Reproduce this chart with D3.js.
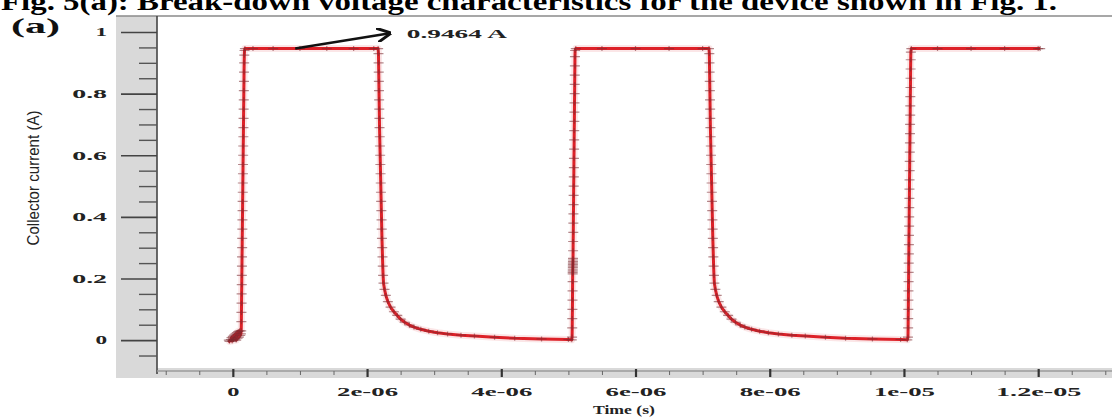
<!DOCTYPE html>
<html>
<head>
<meta charset="utf-8">
<script src="https://cdnjs.cloudflare.com/ajax/libs/d3/7.8.5/d3.min.js"></script>
<style>
  html, body { margin: 0; padding: 0; background: #fff; overflow: hidden; }
  svg { display: block; }
</style>
</head>
<body>
<svg id="chart"></svg>
<script>
(function () {
  'use strict';

  var titleText = "Fig. 5(a): Break-down voltage characteristics for the device shown in Fig. 1.";
  var panelLabel = "(a)";
  var yLabel = "Collector current (A)";
  var xLabel = "Time (s)";
  var peakLabel = "0.9464 A";

  var yTicks = [0, 0.2, 0.4, 0.6, 0.8, 1];
  var yTickLabels = ["0", "0.2", "0.4", "0.6", "0.8", "1"];
  var yMinorTicks = [-0.05, 0.05, 0.1, 0.15, 0.25, 0.3, 0.35, 0.45, 0.5, 0.55, 0.65, 0.7, 0.75, 0.85, 0.9, 0.95];

  // time axis values are in microseconds
  var xTicks = [0, 2, 4, 6, 8, 10, 12];
  var xTickLabels = ["0", "2e-06", "4e-06", "6e-06", "8e-06", "1e-05", "1.2e-05"];
  var xMinorTicks = [-1, -0.5, 0.5, 1, 1.5, 2.5, 3, 3.5, 4.5, 5, 5.5, 6.5, 7, 7.5, 8.5, 9, 9.5, 10.5, 11, 11.5, 12.5, 13];

  // [time (us), collector current (A)]
  var startOff = [[-0.06, 0], [-0.05, -0.004], [-0.03, 0.002], [-0.02, 0.008], [-0.01, -0.003], [0.0, 0.012],
    [0.01, 0.001], [0.02, 0.016], [0.03, 0.004], [0.04, 0.02], [0.05, 0], [0.06, 0.024], [0.07, 0.006],
    [0.08, 0.028], [0.09, 0.01], [0.10, 0.03], [0.11, 0.015], [0.12, 0.02]];

  var rise1 = [[0.125, 0.03], [0.127, 0.06], [0.128, 0.09], [0.130, 0.12], [0.131, 0.15], [0.133, 0.18],
    [0.134, 0.21], [0.136, 0.24], [0.137, 0.27], [0.139, 0.30], [0.140, 0.33], [0.142, 0.36],
    [0.143, 0.39], [0.145, 0.42], [0.146, 0.45], [0.148, 0.48], [0.149, 0.51], [0.151, 0.54],
    [0.152, 0.57], [0.154, 0.60], [0.155, 0.63], [0.157, 0.66], [0.158, 0.69], [0.160, 0.72],
    [0.161, 0.75], [0.163, 0.78], [0.164, 0.81], [0.166, 0.84], [0.167, 0.87], [0.169, 0.90],
    [0.171, 0.925], [0.174, 0.94]];

  var top1 = [[0.18, 0.9464], [0.3, 0.9464], [0.6, 0.9464], [1.0, 0.9464], [1.4, 0.9464],
    [1.8, 0.9464], [2.1, 0.9464], [2.165, 0.9464]];

  var fall1 = [[2.170, 0.93], [2.172, 0.90], [2.174, 0.87], [2.176, 0.84], [2.178, 0.81], [2.180, 0.78],
    [2.182, 0.75], [2.184, 0.72], [2.186, 0.69], [2.189, 0.66], [2.192, 0.63], [2.195, 0.60],
    [2.198, 0.57], [2.201, 0.54], [2.204, 0.51], [2.207, 0.48], [2.210, 0.45], [2.213, 0.42],
    [2.216, 0.39], [2.219, 0.36], [2.222, 0.33], [2.226, 0.30], [2.230, 0.27], [2.234, 0.24],
    [2.239, 0.21], [2.245, 0.185], [2.26, 0.165], [2.28, 0.145], [2.31, 0.125], [2.35, 0.107],
    [2.40, 0.092], [2.45, 0.08], [2.50, 0.068], [2.56, 0.058], [2.63, 0.049], [2.70, 0.042],
    [2.80, 0.035], [2.92, 0.029], [3.05, 0.024], [3.20, 0.020], [3.40, 0.016], [3.60, 0.013],
    [3.90, 0.009], [4.20, 0.006], [4.60, 0.004], [5.00, 0.002], [5.05, 0.001]];

  var rise2 = [[5.055, 0.01], [5.057, 0.04], [5.058, 0.07], [5.060, 0.10], [5.061, 0.13], [5.062, 0.16],
    [5.063, 0.19], [5.064, 0.215], [5.064, 0.22], [5.065, 0.225], [5.065, 0.23], [5.066, 0.235],
    [5.066, 0.24], [5.067, 0.245], [5.067, 0.25], [5.068, 0.255], [5.068, 0.26], [5.069, 0.265],
    [5.070, 0.29], [5.071, 0.32],
    [5.073, 0.35], [5.074, 0.38], [5.075, 0.41], [5.077, 0.44], [5.078, 0.47], [5.079, 0.50],
    [5.081, 0.53], [5.082, 0.56], [5.083, 0.59], [5.085, 0.62], [5.086, 0.65], [5.087, 0.68],
    [5.089, 0.71], [5.090, 0.74], [5.091, 0.77], [5.093, 0.80], [5.094, 0.83], [5.095, 0.86],
    [5.097, 0.89], [5.098, 0.92], [5.100, 0.94]];

  var top2 = [[5.11, 0.9464], [5.5, 0.9464], [6.0, 0.9464], [6.5, 0.9464], [7.0, 0.9464], [7.095, 0.9464]];

  var fall2 = [[7.100, 0.93], [7.102, 0.90], [7.104, 0.87], [7.106, 0.84], [7.108, 0.81], [7.110, 0.78],
    [7.112, 0.75], [7.114, 0.72], [7.116, 0.69], [7.119, 0.66], [7.122, 0.63], [7.125, 0.60],
    [7.128, 0.57], [7.131, 0.54], [7.134, 0.51], [7.137, 0.48], [7.140, 0.45], [7.143, 0.42],
    [7.146, 0.39], [7.149, 0.36], [7.152, 0.33], [7.156, 0.30], [7.160, 0.27], [7.164, 0.24],
    [7.169, 0.21], [7.175, 0.185], [7.19, 0.165], [7.21, 0.145], [7.24, 0.125], [7.28, 0.107],
    [7.33, 0.092], [7.38, 0.08], [7.43, 0.068], [7.49, 0.058], [7.56, 0.049], [7.63, 0.042],
    [7.73, 0.035], [7.85, 0.029], [7.98, 0.024], [8.13, 0.020], [8.33, 0.016], [8.53, 0.013],
    [8.83, 0.009], [9.13, 0.006], [9.53, 0.004], [9.95, 0.002], [10.05, 0.001]];

  var rise3 = [[10.060, 0.01], [10.062, 0.04], [10.063, 0.07], [10.065, 0.10], [10.066, 0.13],
    [10.067, 0.16], [10.069, 0.19], [10.070, 0.22], [10.071, 0.25], [10.073, 0.28], [10.074, 0.31],
    [10.075, 0.34], [10.077, 0.37], [10.078, 0.40], [10.079, 0.43], [10.081, 0.46], [10.082, 0.49],
    [10.083, 0.52], [10.085, 0.55], [10.086, 0.58], [10.087, 0.61], [10.089, 0.64], [10.090, 0.67],
    [10.091, 0.70], [10.093, 0.73], [10.094, 0.76], [10.095, 0.79], [10.097, 0.82], [10.098, 0.85],
    [10.099, 0.88], [10.101, 0.91], [10.103, 0.935]];

  var top3 = [[10.11, 0.9464], [10.5, 0.9464], [11.0, 0.9464], [11.5, 0.9464], [12.0, 0.9464], [12.03, 0.9464]];

  // arrow to the on-state current
  var arrowFrom = [0.93, 0.9464];
  var arrowTo = [2.34, 0.996];

  var width = 1112, height = 417;
  var plot = { left: 157, right: 1112, top: 16, bottom: 370 };

  var svg = d3.select("#chart").attr("width", width).attr("height", height);

  var x = d3.scaleLinear().domain([-1.13, 13.1]).range([plot.left, plot.right]);
  var y = d3.scaleLinear().domain([-0.097, 1.052]).range([plot.bottom, plot.top]);

  var serif = "'Liberation Serif', 'Times New Roman', serif";

  drawFrame();
  drawAxes();
  drawTrace();
  drawAnnotation();
  drawTexts();

  function drawFrame() {
    // grey band behind the axes
    svg.append("rect")
      .attr("x", 116).attr("y", plot.top)
      .attr("width", plot.left - 116).attr("height", 378 - plot.top)
      .attr("fill", "#d9d9d9");
    svg.append("rect")
      .attr("x", 116).attr("y", plot.bottom - 2)
      .attr("width", width - 116).attr("height", 10)
      .attr("fill", "#d9d9d9");

    svg.append("rect")
      .attr("x", plot.left).attr("y", plot.top)
      .attr("width", plot.right - plot.left).attr("height", plot.bottom - 2 - plot.top)
      .attr("fill", "#fff");

    svg.append("line")
      .attr("x1", 116).attr("x2", width)
      .attr("y1", plot.top).attr("y2", plot.top)
      .attr("stroke", "#8a8a8a").attr("stroke-width", 1.5);
  }

  function drawAxes() {
    var yMajor = d3.axisLeft(y).tickValues(yTicks).tickSize(36).tickPadding(14)
      .tickFormat(function (d, i) { return yTickLabels[i]; });
    var yMinor = d3.axisLeft(y).tickValues(yMinorTicks).tickSize(18).tickFormat("");

    var gy = svg.append("g").attr("transform", "translate(" + plot.left + ",0)").call(yMajor);
    svg.append("g").attr("transform", "translate(" + plot.left + ",0)").call(yMinor)
      .call(function (g) { g.select(".domain").remove(); })
      .selectAll("line").attr("stroke", "#555").attr("stroke-width", 1.4);

    gy.select(".domain").attr("d", "M0," + plot.top + "V374").attr("stroke", "#444").attr("stroke-width", 1.6);
    gy.selectAll(".tick line").attr("stroke", "#444").attr("stroke-width", 1.6);
    gy.selectAll(".tick text")
      .attr("font-family", serif).attr("font-weight", "bold").attr("font-size", 12)
      .attr("fill", "#222")
      .attr("textLength", function (d, i) { return yTickLabels[i].length * 11.6; })
      .attr("lengthAdjust", "spacingAndGlyphs");

    var xMajor = d3.axisBottom(x).tickValues(xTicks).tickSize(6).tickPadding(10)
      .tickFormat(function (d, i) { return xTickLabels[i]; });
    var xMinor = d3.axisBottom(x).tickValues(xMinorTicks).tickSize(4).tickFormat("");

    var gx = svg.append("g").attr("transform", "translate(0," + (plot.bottom + 1) + ")").call(xMajor);
    svg.append("g").attr("transform", "translate(0," + (plot.bottom + 1) + ")").call(xMinor)
      .call(function (g) { g.select(".domain").remove(); })
      .selectAll("line").attr("stroke", "#666").attr("stroke-width", 1);

    gx.select(".domain").attr("d", "M" + plot.left + ",0H" + width).attr("stroke", "#9a9a9a").attr("stroke-width", 1.5);
    gx.selectAll(".tick line").attr("y1", -2).attr("stroke", "#333").attr("stroke-width", 2.2);
    gx.selectAll(".tick text")
      .attr("font-family", serif).attr("font-weight", "bold").attr("font-size", 12)
      .attr("fill", "#222")
      .attr("textLength", function (d, i) { return xTickLabels[i].length * 12.2; })
      .attr("lengthAdjust", "spacingAndGlyphs");
  }

  function drawTrace() {
    var trace = [].concat(startOff, rise1, top1, fall1, rise2, top2, fall2, rise3, top3);

    svg.append("clipPath").attr("id", "plotClip")
      .append("rect")
      .attr("x", plot.left).attr("y", plot.top)
      .attr("width", plot.right - plot.left).attr("height", plot.bottom - plot.top);

    var g = svg.append("g").attr("clip-path", "url(#plotClip)");

    var line = d3.line()
      .x(function (d) { return x(d[0]); })
      .y(function (d) { return y(d[1]); });

    // soft halo under the trace, like the scanned original
    g.append("path")
      .datum(trace)
      .attr("d", line)
      .attr("fill", "none")
      .attr("stroke", "#f4b8bb")
      .attr("stroke-width", 7)
      .attr("stroke-linejoin", "round")
      .attr("opacity", 0.35);

    g.append("path")
      .datum(trace)
      .attr("d", line)
      .attr("fill", "none")
      .attr("stroke", "#dd2128")
      .attr("stroke-width", 3)
      .attr("stroke-linejoin", "round");

    // cross markers on each simulated point
    g.selectAll("path.mark")
      .data(trace)
      .enter()
      .append("path")
      .attr("class", "mark")
      .attr("d", "M-5,0H5M0,-2.5V2.5")
      .attr("transform", function (d) { return "translate(" + x(d[0]) + "," + y(d[1]) + ")"; })
      .attr("stroke", "#7a2a30")
      .attr("stroke-width", 1.2)
      .attr("opacity", 0.55);
  }

  function drawAnnotation() {
    svg.append("defs").append("marker")
      .attr("id", "arrowHead")
      .attr("viewBox", "0 0 10 10")
      .attr("refX", 9).attr("refY", 5)
      .attr("markerWidth", 6).attr("markerHeight", 6)
      .attr("orient", "auto")
      .append("path")
      .attr("d", "M0,0L10,5L0,10")
      .attr("fill", "none")
      .attr("stroke", "#111")
      .attr("stroke-width", 2);

    svg.append("line")
      .attr("x1", x(arrowFrom[0])).attr("y1", y(arrowFrom[1]))
      .attr("x2", x(arrowTo[0])).attr("y2", y(arrowTo[1]))
      .attr("stroke", "#111")
      .attr("stroke-width", 2.4)
      .attr("marker-end", "url(#arrowHead)");

    svg.append("text")
      .attr("x", x(arrowTo[0]) + 17).attr("y", y(arrowTo[1]) + 5)
      .attr("font-family", serif).attr("font-weight", "bold").attr("font-size", 12)
      .attr("fill", "#222")
      .attr("textLength", 100).attr("lengthAdjust", "spacingAndGlyphs")
      .text(peakLabel);
  }

  function drawTexts() {
    svg.append("text")
      .attr("x", 1).attr("y", 10)
      .attr("font-family", serif).attr("font-weight", "bold").attr("font-size", 26)
      .attr("fill", "#000")
      .attr("textLength", 1056).attr("lengthAdjust", "spacingAndGlyphs")
      .text(titleText);

    svg.append("text")
      .attr("x", 11).attr("y", 33)
      .attr("font-family", serif).attr("font-weight", "bold").attr("font-size", 21)
      .attr("fill", "#111")
      .attr("textLength", 49).attr("lengthAdjust", "spacingAndGlyphs")
      .text(panelLabel);

    svg.append("text")
      .attr("transform", "translate(39,178) rotate(-90)")
      .attr("text-anchor", "middle")
      .attr("font-family", "'Liberation Sans', Arial, sans-serif").attr("font-size", 17)
      .attr("fill", "#222")
      .attr("textLength", 135).attr("lengthAdjust", "spacingAndGlyphs")
      .text(yLabel);

    svg.append("text")
      .attr("x", 624).attr("y", 414)
      .attr("text-anchor", "middle")
      .attr("font-family", serif).attr("font-weight", "bold").attr("font-size", 13)
      .attr("fill", "#222")
      .attr("textLength", 62).attr("lengthAdjust", "spacingAndGlyphs")
      .text(xLabel);
  }
})();
</script>
</body>
</html>
